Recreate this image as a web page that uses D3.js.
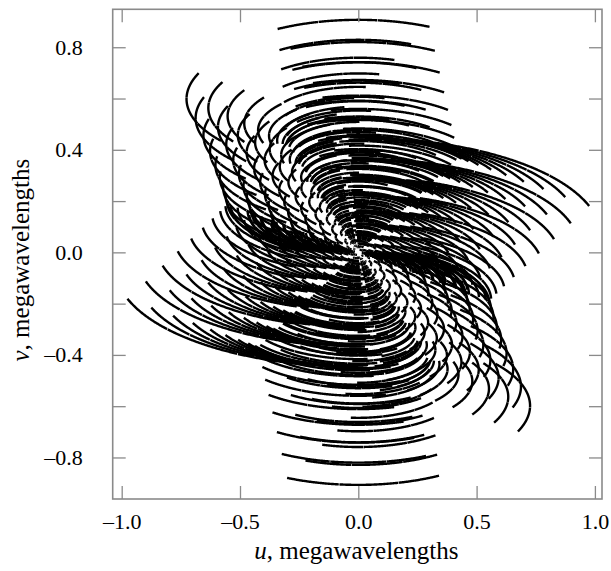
<!DOCTYPE html>
<html>
<head>
<meta charset="utf-8">
<script src="https://cdn.jsdelivr.net/npm/d3@7"></script>
<style>
  body { margin: 0; background: #fff; }
  text { font-family: "Liberation Serif", "Times New Roman", serif; fill: #000; }
</style>
</head>
<body>
<svg id="chart" width="611" height="571"></svg>
<script>
// Array layout: a Y-shaped array, nine pads per arm (power-law spacing).
const armAzimuthsDeg = [355, 115, 236];          // north, east, west arm (deg east of north)
const armLengthsKm   = [18.9, 20.9, 21.0];
const padFractions   = [0.0231, 0.0755, 0.152, 0.249, 0.365, 0.499, 0.650, 0.817, 1.0];

// Observation
const latitudeDeg    = 34.08;
const declinationDeg = 22;
const wavelengthKm   = 3.55e-5;                   // 3.55 cm
// Scans on source, in hours of hour angle (short gaps are calibrator visits)
const scanHours = [[1.02, 2.36], [2.375, 3.83], [3.845, 4.93]];
const sampleStepHours = 0.02;

// Axes
const xTicks = [-1.0, -0.5, 0.0, 0.5, 1.0];
const yTicks = [-0.8, -0.6, -0.4, -0.2, 0.0, 0.2, 0.4, 0.6, 0.8];
const yLabelled = [-0.8, -0.4, 0.0, 0.4, 0.8];
const xDomain = [-1.038, 1.03];
const yDomain = [-0.962, 0.948];

const plot = { left: 112.7, right: 602, top: 9.3, bottom: 499 };

const svg = d3.select("#chart");
const x = d3.scaleLinear().domain(xDomain).range([plot.left, plot.right]);
const y = d3.scaleLinear().domain(yDomain).range([plot.bottom, plot.top]);

// Antenna positions (east, north) in km
const rad = Math.PI / 180;
const antennas = [];
armAzimuthsDeg.forEach((az, a) => {
  padFractions.forEach(f => {
    const r = f * armLengthsKm[a];
    antennas.push({ e: r * Math.sin(az * rad), n: r * Math.cos(az * rad) });
  });
});

// Baselines in megawavelengths
const toMl = 1 / wavelengthKm / 1e6;
const baselines = [];
for (let i = 0; i < antennas.length; i++) {
  for (let j = i + 1; j < antennas.length; j++) {
    baselines.push({
      e: (antennas[j].e - antennas[i].e) * toMl,
      n: (antennas[j].n - antennas[i].n) * toMl
    });
  }
}

const phi = latitudeDeg * rad, dec = declinationDeg * rad;
function uv(b, hHours) {
  const H = hHours * 15 * rad;
  const X = -b.n * Math.sin(phi), Y = b.e, Z = b.n * Math.cos(phi);
  const u = X * Math.sin(H) + Y * Math.cos(H);
  const v = -X * Math.sin(dec) * Math.cos(H) + Y * Math.sin(dec) * Math.sin(H) + Z * Math.cos(dec);
  return [u, v];
}

const line = d3.line().x(d => x(d[0])).y(d => y(d[1]));
const tracks = [];
baselines.forEach(b => {
  scanHours.forEach(([h0, h1]) => {
    const hs = d3.range(h0, h1, sampleStepHours).concat([h1]);
    const pts = hs.map(h => uv(b, h));
    tracks.push(pts);
    tracks.push(pts.map(p => [-p[0], -p[1]]));
  });
});

svg.append("g")
  .selectAll("path")
  .data(tracks)
  .join("path")
  .attr("d", line)
  .attr("fill", "none")
  .attr("stroke", "#000")
  .attr("stroke-width", 2.4)
  .attr("stroke-linecap", "butt");

// Frame and inward ticks
const fmt = d => (d < 0 ? "\u2013" : "") + d3.format(".1f")(Math.abs(d));
const frameColor = "#8a8a8a";

function styleAxis(g) {
  g.select(".domain").remove();
  g.selectAll(".tick line").attr("stroke", frameColor).attr("stroke-width", 1.3);
  g.selectAll(".tick text")
    .style("font-family", "'Liberation Serif', 'Times New Roman', serif")
    .style("font-size", "22px")
    .attr("fill", "#000");
}

svg.append("g")
  .attr("transform", `translate(0,${plot.bottom})`)
  .call(d3.axisBottom(x).tickValues(xTicks).tickSize(-13).tickPadding(14).tickFormat(fmt))
  .call(styleAxis);
svg.append("g")
  .attr("transform", `translate(0,${plot.top})`)
  .call(d3.axisTop(x).tickValues(xTicks).tickSize(-13).tickFormat(""))
  .call(styleAxis);
svg.append("g")
  .attr("transform", `translate(${plot.left},0)`)
  .call(d3.axisLeft(y).tickValues(yTicks).tickSize(-13).tickPadding(30)
    .tickFormat(d => yLabelled.some(t => Math.abs(t - d) < 1e-9) ? fmt(d) : ""))
  .call(styleAxis);
svg.append("g")
  .attr("transform", `translate(${plot.right},0)`)
  .call(d3.axisRight(y).tickValues(yTicks).tickSize(-13).tickFormat(""))
  .call(styleAxis);

svg.append("rect")
  .attr("x", plot.left).attr("y", plot.top)
  .attr("width", plot.right - plot.left).attr("height", plot.bottom - plot.top)
  .attr("fill", "none").attr("stroke", frameColor).attr("stroke-width", 1.6);

// Axis titles
const xt = svg.append("text")
  .attr("x", (plot.left + plot.right) / 2 - 1).attr("y", 559)
  .attr("text-anchor", "middle").style("font-size", "25px");
xt.append("tspan").style("font-style", "italic").text("u");
xt.append("tspan").text(", megawavelengths");

const yt = svg.append("text")
  .attr("transform", `translate(29,${(plot.top + plot.bottom) / 2 + 6}) rotate(-90)`)
  .attr("text-anchor", "middle").style("font-size", "25px");
yt.append("tspan").style("font-style", "italic").text("v");
yt.append("tspan").text(", megawavelengths");
</script>
</body>
</html>
